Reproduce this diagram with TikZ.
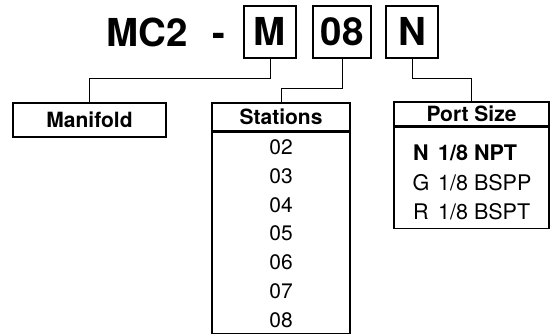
\documentclass[tikz,border=0pt]{standalone}
\usepackage{fontspec}
\setmainfont{TeX Gyre Heros}
\begin{document}
\begin{tikzpicture}[x=1pt,y=-1pt,
  codebox/.style={draw, line width=1.2pt, inner sep=0pt, minimum height=52pt, text height=27.5pt, text depth=0pt, font=\fontsize{38.5}{38.5}\selectfont\bfseries},
  codetext/.style={inner sep=0pt, text height=27.5pt, text depth=0pt, font=\fontsize{38.5}{38.5}\selectfont\bfseries},
  labelbox/.style={draw, line width=1.1pt, inner sep=0pt, text height=15pt, text depth=0pt, font=\fontsize{21}{21}\selectfont\bfseries},
  listbox/.style={draw, line width=1.1pt, inner sep=0pt},
  item/.style={inner sep=0pt, text height=15pt, text depth=0pt, font=\fontsize{21}{21}\selectfont},
  portitem/.style={item, font=\fontsize{21.5}{21.5}\selectfont},
  bolditem/.style={item, font=\fontsize{21.5}{21.5}\selectfont\bfseries},
  conn/.style={line width=1pt}
]
\useasboundingbox (0,0) rectangle (552,334);
% code line
\node[codetext] (mc) at (147.5,32.5) {MC2};
\node[codetext] (dash) at (219,32.5) {-};
\node[codebox, minimum width=52pt] (m) at (270,32) {M};
\node[codebox, minimum width=58pt] (st) at (342,32) {08};
\node[codebox, minimum width=52pt] (ps) at (412,32) {N};
% label boxes
\node[labelbox, minimum width=153pt, minimum height=34pt] (manifold) at (89.5,120) {Manifold};
\node[labelbox, minimum width=138pt, minimum height=28pt] (sthead) at (281,117) {Stations};
\node[listbox, minimum width=138pt, minimum height=201pt, anchor=north] (stbody) at (sthead.south) {};
\foreach \v [count=\i from 0] in {02,03,04,05,06,07,08}
  \node[item] (s\v) at (281,147+28.8*\i) {\v};
\node[labelbox, minimum width=155pt, minimum height=24pt] (pshead) at (471.5,114) {Port Size};
\node[listbox, minimum width=155pt, minimum height=101pt, anchor=north] (psbody) at (pshead.south) {};
\node[bolditem] (cn) at (421,153) {N};
\node[bolditem, anchor=west] (dn) at (438,153) {1/8 NPT};
\node[portitem] (cg) at (421,183) {G};
\node[portitem, anchor=west] (dg) at (438,183) {1/8 BSPP};
\node[portitem] (cr) at (421,212) {R};
\node[portitem, anchor=west] (dr) at (438,212) {1/8 BSPT};
% connectors
\coordinate (ya) at (0,79);
\coordinate (yb) at (0,89);
\draw[conn] (m.south) -- (m.south |- ya) -| (manifold.north);
\draw[conn] (st.south) -- (st.south |- yb) -| (sthead.north);
\draw[conn] (ps.south) -- (ps.south |- ya) -| (pshead.north);
\end{tikzpicture}
\end{document}
